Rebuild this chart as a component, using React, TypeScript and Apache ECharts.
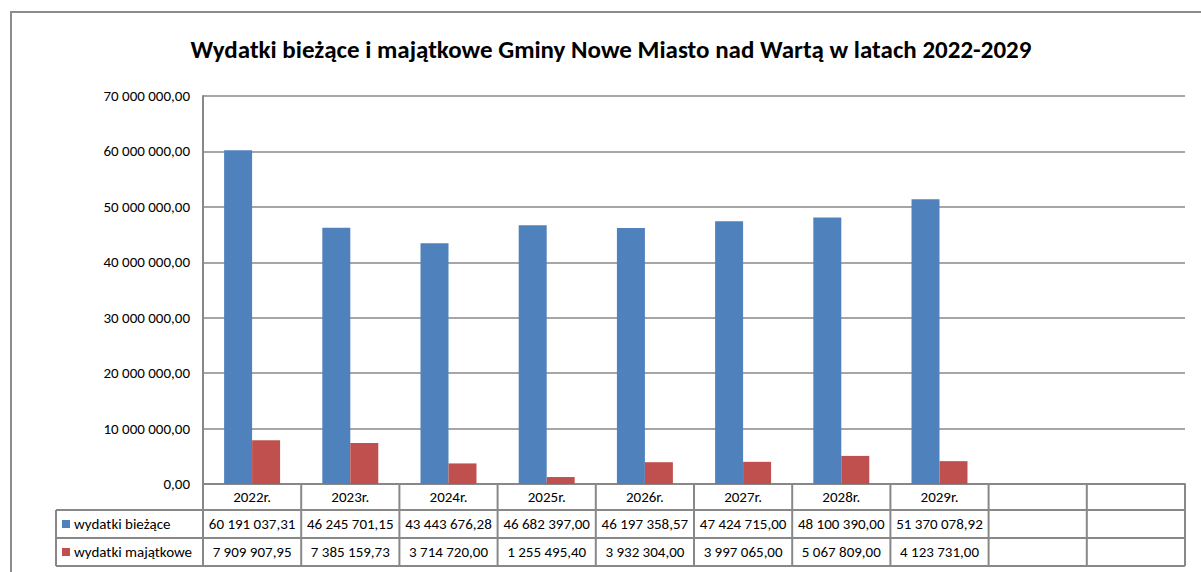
import React, { useEffect, useRef } from "react";
import * as echarts from "echarts";

const title = "Wydatki bieżące i majątkowe Gminy Nowe Miasto nad Wartą w latach 2022-2029";
const categories = ["2022r.", "2023r.", "2024r.", "2025r.", "2026r.", "2027r.", "2028r.", "2029r.", "", ""];
const seriesNames = ["wydatki bieżące", "wydatki majątkowe"];
const biezace = [60191037.31, 46245701.15, 43443676.28, 46682397.0, 46197358.57, 47424715.0, 48100390.0, 51370078.92];
const majatkowe = [7909907.95, 7385159.73, 3714720.0, 1255495.4, 3932304.0, 3997065.0, 5067809.0, 4123731.0];
const yMin = 0;
const yMax = 70000000;
const yInterval = 10000000;

const colors = ["#4F81BD", "#C0504D"];
const FONT = "Carlito, Lato, 'Liberation Sans', sans-serif";
const GRAY = "#888888";
const FS = 15;

function fmt(v: number): string {
  const [i, d] = v.toFixed(2).split(".");
  return i.replace(/\B(?=(\d{3})+(?!\d))/g, " ") + "," + d;
}

export default function App() {
  const ref = useRef<HTMLDivElement>(null);
  useEffect(() => {
    if (!ref.current) return;
    const chart = echarts.init(ref.current, undefined, { renderer: "svg" });
    const gridTop = 96;
    const gridBottom = 88;
    const gridLeft = 203;
    const gridRight = 16;
    chart.setOption({
      animation: false,
      backgroundColor: "#ffffff",
      title: {
        text: title,
        left: 606,
        top: 32,
        textAlign: "center",
        textStyle: { fontFamily: FONT, fontSize: 25, fontWeight: "bold", color: "#000" },
      },
      grid: { left: gridLeft, right: gridRight, top: gridTop, bottom: gridBottom, containLabel: false },
      xAxis: {
        type: "category",
        data: categories,
        axisLine: { lineStyle: { color: GRAY, width: 2 } },
        axisTick: { show: false },
        axisLabel: { color: "#000", fontFamily: FONT, fontSize: FS, margin: 5, interval: 0 },
        splitLine: { show: false },
      },
      yAxis: {
        type: "value",
        min: yMin,
        max: yMax,
        interval: yInterval,
        axisLine: { show: true, lineStyle: { color: GRAY, width: 2 } },
        axisTick: { show: false },
        splitLine: { lineStyle: { color: GRAY, width: 1.5 } },
        axisLabel: { color: "#000", fontFamily: FONT, fontSize: FS, margin: 13, formatter: (v: number) => fmt(v) },
      },
      series: [
        {
          name: seriesNames[0],
          type: "bar",
          data: biezace,
          itemStyle: { color: colors[0] },
          barGap: "0%",
          barCategoryGap: "43%",
        },
        {
          name: seriesNames[1],
          type: "bar",
          data: majatkowe,
          itemStyle: { color: colors[1] },
          barGap: "0%",
          barCategoryGap: "43%",
        },
      ],
    });

    const n = categories.length;
    const c0 = chart.convertToPixel({ xAxisIndex: 0 }, 0) as number;
    const c1 = chart.convertToPixel({ xAxisIndex: 0 }, 1) as number;
    const band = c1 - c0;
    const left0 = c0 - band / 2;
    const axisY = chart.convertToPixel({ yAxisIndex: 0 }, 0) as number;
    const rowH = 28;
    const headerBottom = axisY + 26;
    const row1Bottom = headerBottom + rowH;
    const row2Bottom = row1Bottom + rowH;
    const tableLeft = 56;
    const right = left0 + band * n;
    const line = (x1: number, y1: number, x2: number, y2: number) => ({
      type: "line",
      shape: { x1, y1, x2, y2 },
      style: { stroke: GRAY, lineWidth: 2 },
      silent: true,
    });
    const g: any[] = [];
    g.push({
      type: "polyline",
      shape: { points: [[11, 600], [11, 12], [1220, 12]] },
      style: { stroke: "#8c8c8c", lineWidth: 2, fill: "none" },
      silent: true,
    });
    for (let i = 0; i <= n; i++) {
      const x = left0 + band * i;
      g.push(line(x, axisY, x, row2Bottom));
    }
    [headerBottom, row1Bottom, row2Bottom].forEach((y) => g.push(line(tableLeft, y, right, y)));
    g.push(line(tableLeft, headerBottom, tableLeft, row2Bottom));
    const rows = [biezace, majatkowe];
    rows.forEach((vals, r) => {
      const yc = headerBottom + rowH * r + rowH / 2;
      g.push({
        type: "rect",
        shape: { x: tableLeft + 6, y: yc - 4, width: 8, height: 8 },
        style: { fill: colors[r] },
        silent: true,
      });
      g.push({
        type: "text",
        x: tableLeft + 18,
        y: yc,
        style: { text: seriesNames[r], fontFamily: FONT, fontSize: FS, fill: "#000", verticalAlign: "middle" },
        silent: true,
      });
      vals.forEach((v, i) => {
        g.push({
          type: "text",
          x: left0 + band * i + band / 2,
          y: yc,
          style: { text: fmt(v), fontFamily: FONT, fontSize: FS, fill: "#000", align: "center", verticalAlign: "middle" },
          silent: true,
        });
      });
    });
    chart.setOption({ graphic: g });
    return () => chart.dispose();
  }, []);
  return <div ref={ref} style={{ position: "fixed", left: 0, top: 0, width: 1201, height: 572 }} />;
}
